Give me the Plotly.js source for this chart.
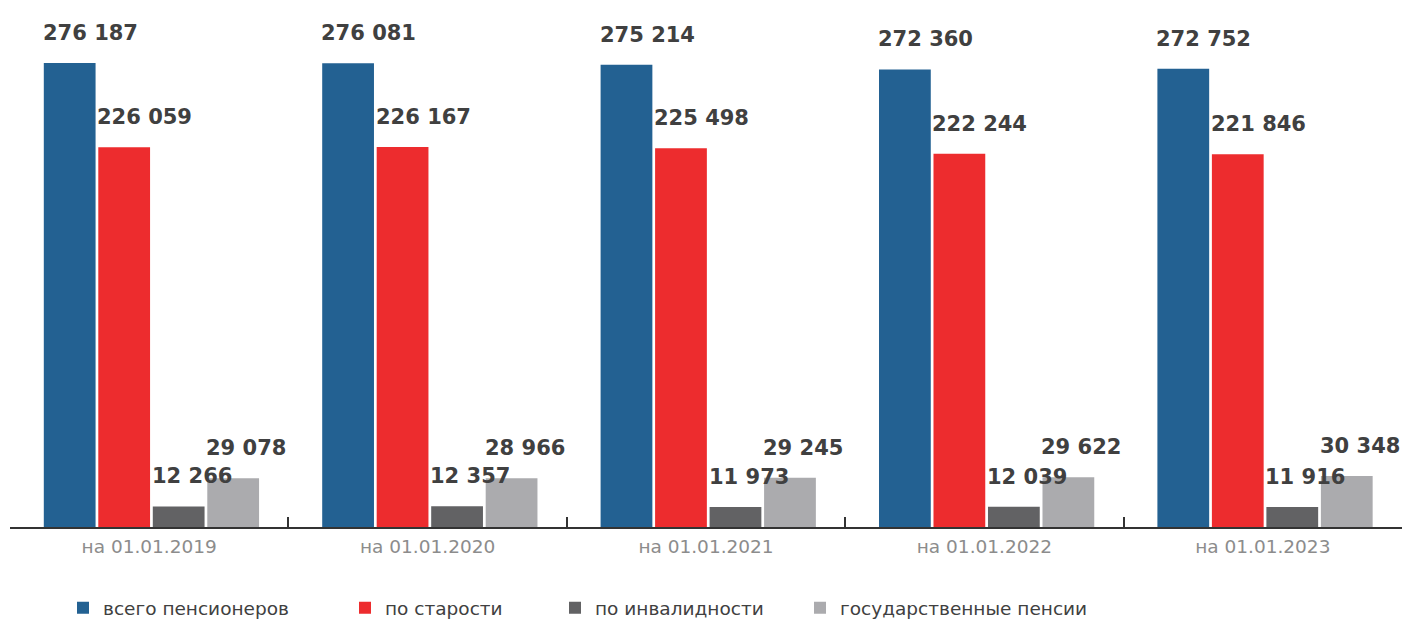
<!DOCTYPE html>
<html>
<head>
<meta charset="utf-8">
<script src="https://cdn.plot.ly/plotly-3.0.1.min.js"></script>
<style>html,body{margin:0;padding:0;background:#fff;overflow:hidden;}#chart{width:1402px;height:619px;}</style>
</head>
<body>
<div id="chart"></div>
<script>
const categories = ['на 01.01.2019', 'на 01.01.2020', 'на 01.01.2021', 'на 01.01.2022', 'на 01.01.2023'];
const seriesNames = ['всего пенсионеров', 'по старости', 'по инвалидности', 'государственные пенсии'];
const totalPensioners = [276187, 276081, 275214, 272360, 272752];
const oldAge = [226059, 226167, 225498, 222244, 221846];
const disability = [12266, 12357, 11973, 12039, 11916];
const statePensions = [29078, 28966, 29245, 29622, 30348];
const colors = ['#236192', '#ed2c2e', '#626264', '#ababae'];

const allSeries = [totalPensioners, oldAge, disability, statePensions];
const bargap = 0.217, bargroupgap = 0.05;
const groupShift = 0.008;
const fmt = v => String(v).replace(/\B(?=(\d{3})+(?!\d))/g, ' ');

const nS = allSeries.length;
const slot = (1 - bargap) / nS;
const barWidth = slot * (1 - bargroupgap);
const barOffset = i => -(1 - bargap) / 2 + i * slot + slot * bargroupgap / 2 + groupShift;

const legendNames = ['legend', 'legend2', 'legend3', 'legend4'];
const traces = allSeries.map((vals, i) => ({
  type: 'bar', x: categories, y: vals, name: seriesNames[i],
  offset: barOffset(i), width: barWidth,
  marker: {color: colors[i]}, legend: legendNames[i], hoverinfo: 'skip'
}));

const annotations = [];
allSeries.forEach((vals, i) => {
  vals.forEach((v, c) => {
    annotations.push({
      x: c + barOffset(i), y: v, xref: 'x', yref: 'y', text: fmt(v), showarrow: false,
      xanchor: 'left', yanchor: 'bottom', yshift: 16, xshift: -3,
      font: {family: 'DejaVu Sans', size: 21, color: '#404040', weight: 'bold'}
    });
  });
});

const legendTextStarts = [103, 385, 595, 840];
const plotLeft = 10, plotWidth = 1392;
const legends = {};
legendNames.forEach((ln, i) => {
  legends[ln] = {
    orientation: 'h', x: (legendTextStarts[i] - 40 - plotLeft) / plotWidth, xanchor: 'left',
    y: -0.161, yanchor: 'middle', bgcolor: 'rgba(0,0,0,0)',
    font: {family: 'DejaVu Sans', size: 18.5, color: '#404040'}
  };
});

const layout = Object.assign({
  width: 1402, height: 619,
  margin: {l: 10, r: 0, t: 23, b: 92, autoexpand: false},
  paper_bgcolor: '#fff', plot_bgcolor: '#fff',
  barmode: 'group', bargap: bargap, bargroupgap: bargroupgap,
  showlegend: true,
  xaxis: {
    type: 'category', range: [-0.5, categories.length - 0.5], autorange: false,
    tickson: 'boundaries', ticks: 'inside', ticklen: 10, tickwidth: 2,
    tickcolor: '#333', showline: true, linecolor: '#333', linewidth: 2,
    showgrid: false, zeroline: false, fixedrange: true, ticklabelstandoff: 2,
    tickfont: {family: 'DejaVu Sans', size: 18.5, color: '#8c8c8c'}
  },
  yaxis: {range: [0, 300000], visible: false, showgrid: false, zeroline: false, fixedrange: true},
  annotations: annotations
}, legends);

Plotly.newPlot('chart', traces, layout, {displayModeBar: false, staticPlot: true});
</script>
</body>
</html>
